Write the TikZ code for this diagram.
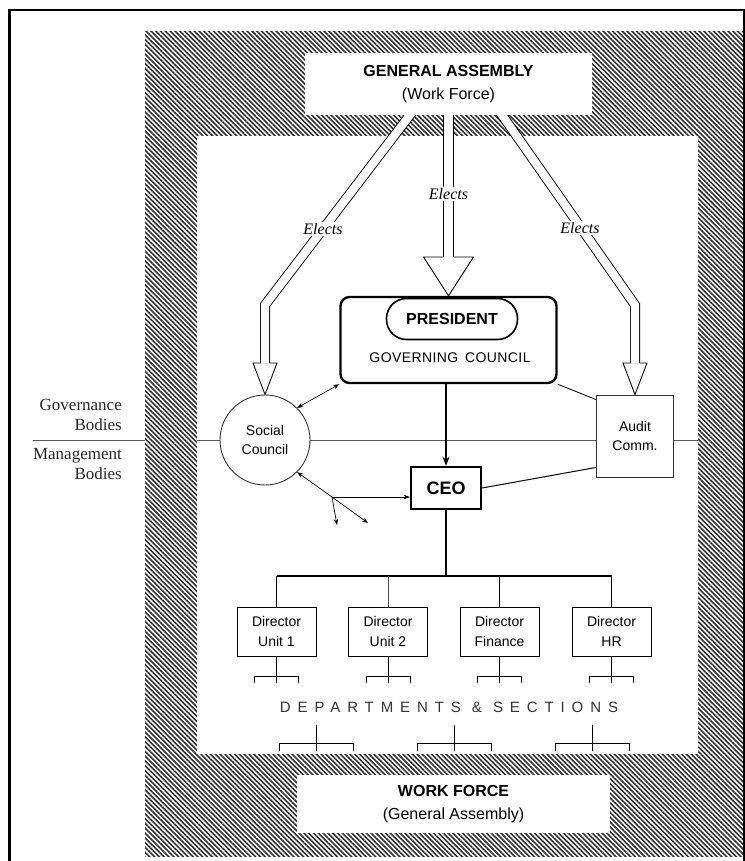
\documentclass[tikz,border=0pt]{standalone}
\usepackage{fontspec}
\setmainfont{Liberation Serif}
\setsansfont{Liberation Sans}
\usetikzlibrary{arrows.meta,patterns.meta,calc}
\pgfdeclarelayer{background}
\pgfsetlayers{background,main}
\tikzset{
  lbl/.style={font=\sffamily\fontsize{14}{19.5}\selectfont, align=center},
  dirbox/.style={draw, line width=0.9pt, minimum width=79pt, minimum height=49pt, inner sep=0pt, fill=white, lbl},
  elects/.style={font=\itshape\fontsize{16}{18}\selectfont, fill=white, inner sep=1.5pt},
  hollow/.style={double, double distance=8.2pt, line width=0.9pt, line join=miter},
  hollowbig/.style={double, double distance=9pt, line width=1pt},
  headline/.style={line width=0.9pt, line join=miter},
  sidelbl/.style={font=\fontsize{17}{20}\selectfont, align=right, anchor=east, inner sep=0pt, text=black!85},
  govline/.style={line width=0.5pt, draw=black!65},
  smalltip/.style={line width=0.7pt},
  tip/.tip={Stealth[length=6pt,width=4.5pt]},
  bigbox/.style={fill=white, inner sep=0pt, align=center, font=\sffamily\fontsize{16}{23}\selectfont},
}
\begin{document}
\begin{tikzpicture}[x=1pt,y=1pt]
\useasboundingbox (0,0) rectangle (744,-861);
\clip (0,0) rectangle (744,-861);

% ---------- nodes ----------
\node[bigbox, minimum width=287pt, minimum height=62pt] (GA) at (448.5,-84)
  {\textbf{GENERAL ASSEMBLY}\\(Work Force)};
\node[bigbox, minimum width=313pt, minimum height=58pt] (WF) at (453.5,-804)
  {\textbf{WORK FORCE}\\(General Assembly)};

\node[draw, line width=2.4pt, rounded corners=9pt, minimum width=216pt, minimum height=86pt, fill=white] (GC) at (448.5,-340) {};
\node[draw, line width=1.6pt, rounded corners=20pt, minimum width=131pt, minimum height=41pt, inner sep=0pt, fill=white,
      font=\sffamily\bfseries\fontsize{16}{16}\selectfont] (PRES) at (452,-319) {PRESIDENT};
\node[font=\sffamily\fontsize{14}{14}\selectfont\addfontfeature{LetterSpace=3}, inner sep=0pt] (GCT) at (450,-358) {GOVERNING\, COUNCIL};

\node[draw, line width=2.4pt, minimum width=70pt, minimum height=42pt, inner sep=0pt, fill=white,
      font=\sffamily\bfseries\fontsize{18}{18}\selectfont] (CEO) at (446,-488) {CEO};

\node[circle, draw, line width=0.9pt, draw=black!80, minimum size=90pt, inner sep=0pt, fill=white, lbl] (SC) at (265,-440) {Social\\Council};
\node[draw, line width=0.9pt, draw=black!80, minimum width=77pt, minimum height=82pt, inner sep=0pt, fill=white, lbl] (AUD) at (635,-436) {Audit\\Comm.};

\node[dirbox] (D1) at (276.5,-631.5) {Director\\Unit 1};
\node[dirbox] (D2) at (388,-631.5) {Director\\Unit 2};
\node[dirbox] (D3) at (499.5,-631.5) {Director\\Finance};
\node[dirbox] (D4) at (611.5,-631.5) {Director\\HR};

\node[font=\sffamily\fontsize{15}{15}\selectfont\addfontfeature{LetterSpace=46}, text=black!80, inner sep=0pt] (DEP) at (449,-707)
  {DEPARTMENTS \& SECTIONS};

\node[sidelbl] (GOV) at (122,-415) {Governance\\Bodies};
\node[sidelbl] (MAN) at (122,-464) {Management\\Bodies};

\node[elects] (EL) at (323,-229) {Elects};
\node[elects] (EC) at (448.5,-194) {Elects};
\node[elects] (ER) at (580,-228) {Elects};

% ---------- connectors ----------
\draw[line width=1.8pt, -{Stealth[length=9pt,width=7pt]}] (CEO.north |- GC.south) -- (CEO.north);
\draw[smalltip, {tip}-{tip}] (SC.45) -- (GC.south west);
\coordinate (J) at (332,-497);
\coordinate (J1) at (337,-525);
\coordinate (J2) at (368,-523);
\draw[smalltip, {tip}-] (SC.-45) -- (J);
\draw[smalltip, -{tip}] (J) -- (CEO.west |- J);
\draw[smalltip, -{tip}] (J) -- (J1);
\draw[smalltip, -{tip}] (J) -- (J2);
\draw[line width=0.8pt] (GC.south east) -- ([yshift=-5pt]AUD.north west);
\draw[line width=1pt] (CEO.east) -- ([yshift=10pt]AUD.south west);

\coordinate (bus) at (446,-576);
\draw[line width=1.6pt] (CEO.south) -- (CEO.south |- bus);
\draw[line width=1.4pt] (D1.north |- bus) -- (D4.north |- bus);
\draw[line width=1.2pt] (D1.north |- bus) -- (D1.north);
\draw[line width=0.7pt, draw=black!70] (D2.north |- bus) -- (D2.north);
\draw[line width=1.2pt] (D3.north |- bus) -- (D3.north);
\draw[line width=1.1pt] (D4.north |- bus) -- (D4.north);

\foreach \d in {D1,D2,D3,D4}{
  \draw[line width=0.9pt] (\d.south) -- ++(0,-27);
  \draw[line width=0.9pt] ($(\d.south)+(-22,-27)$) -- ++(0,7) -- ++(44,0) -- ++(0,-7);
}
\foreach \x in {316,454,592}{
  \draw[line width=0.9pt] (\x,-725) -- (\x,-751);
  \draw[line width=0.9pt] (\x-37,-751) -- (\x-37,-743) -- (\x+37,-743) -- (\x+37,-751);
}

% ---------- background ----------
\begin{pgfonlayer}{background}
\draw[line width=2.8pt] (9.5,-10) rectangle (744.5,-880);
\fill[pattern={Lines[angle=-45,distance=3.4pt,line width=1.6pt]}, pattern color=black!82] (145,-32) rectangle (743,-856);
\fill[white] (197,-136) rectangle (698,-754);
\draw[govline] (33,-440) -- (145,-440);
\draw[govline] (197,-440) -- (698,-440);
% Elects hollow arrows
\coordinate (LS) at (421.4,-100);
\coordinate (LB) at (265,-305);
\coordinate (LE) at (265,-363);
\draw[hollow] (LS) -- (LB) -- (LE);
\draw[headline] (260.5,-363) -- (253,-363) -- (SC.north) -- (277,-363) -- (269.5,-363);
\coordinate (CS) at (448.5,-100);
\coordinate (CE) at (448.5,-257);
\draw[hollowbig] (CS) -- (CE);
\draw[headline] (443.5,-257) -- (423.5,-257) -- (GC.north) -- (473.5,-257) -- (453.5,-257);
\coordinate (RS) at (491.5,-100);
\coordinate (RB) at (635,-305);
\coordinate (RE) at (635,-363);
\draw[hollow] (RS) -- (RB) -- (RE);
\draw[headline] (630.5,-363) -- (623,-363) -- (AUD.north) -- (647,-363) -- (639.5,-363);
\end{pgfonlayer}
\end{tikzpicture}
\end{document}
